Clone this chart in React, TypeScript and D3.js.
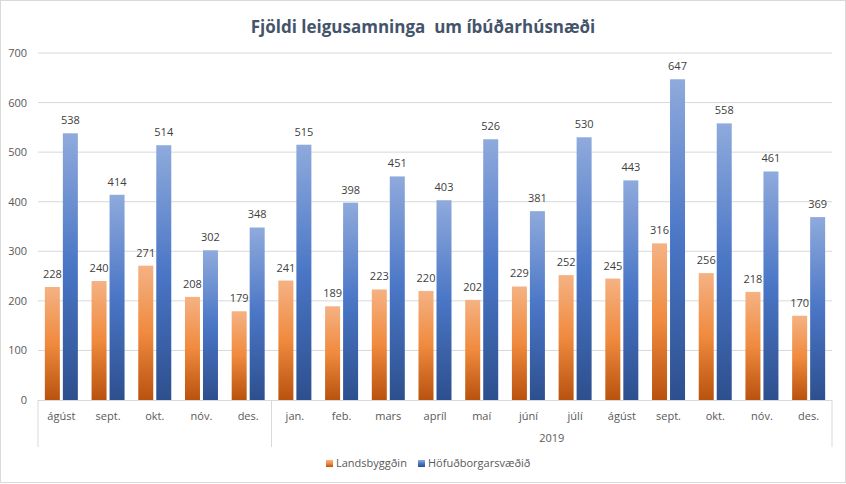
import React from "react";
import * as d3 from "d3";

const months = ["ágúst", "sept.", "okt.", "nóv.", "des.", "jan.", "feb.", "mars", "apríl", "maí", "júní", "júlí", "ágúst", "sept.", "okt.", "nóv.", "des."];
const landsbyggdin = [228, 240, 271, 208, 179, 241, 189, 223, 220, 202, 229, 252, 245, 316, 256, 218, 170];
const hofudborg = [538, 414, 514, 302, 348, 515, 398, 451, 403, 526, 381, 530, 443, 647, 558, 461, 369];
const yTicks = [0, 100, 200, 300, 400, 500, 600, 700];
const yearLabel = "2019";
const yearStart = 5;
const seriesNames = ["Landsbyggðin", "Höfuðborgarsvæðið"];
const title = "Fjöldi leigusamninga  um íbúðarhúsnæði";

const W = 846, H = 484;
const left = 38, right = 832, top = 53, bottom = 400;
const font = "'Open Sans', 'Noto Sans', sans-serif";

export default function App() {
  const x = d3.scaleBand<number>().domain(months.map((_, i) => i)).range([left, right]).paddingInner(0).paddingOuter(0);
  const y = d3.scaleLinear().domain([0, 700]).range([bottom, top]);
  const bw = x.bandwidth();
  const inner = d3.scaleBand<number>().domain([0, 1]).range([0, 33]).paddingInner(3 / 18);
  const groupOffset = (bw - 33) / 2;
  const series = [landsbyggdin, hofudborg];
  const grads = ["gOrange", "gBlue"];
  return (
    <svg width={W} height={H} style={{ position: "absolute", left: 0, top: 0, background: "#fff" }}>
      <defs>
        <linearGradient id="gOrange" x1="0" y1="0" x2="0" y2="1">
          <stop offset="0" stopColor="#F5B283" />
          <stop offset="0.5" stopColor="#F08A3E" />
          <stop offset="1" stopColor="#B8520E" />
        </linearGradient>
        <linearGradient id="gBlue" x1="0" y1="0" x2="0" y2="1">
          <stop offset="0" stopColor="#8FAADC" />
          <stop offset="0.5" stopColor="#4A76C6" />
          <stop offset="1" stopColor="#2D4F8E" />
        </linearGradient>
      </defs>
      <rect x={0.5} y={0.5} width={W - 1} height={H - 2} fill="#fff" stroke="#D9D9D9" />
      <text x={W / 2} y={33} textAnchor="middle" fontFamily={font} fontWeight="bold" fontSize={17} fill="#44546A" style={{ whiteSpace: "pre" }}>{title}</text>
      {yTicks.map(t => (
        <g key={t}>
          {t > 0 && <line x1={left} x2={right} y1={y(t)} y2={y(t)} stroke="#D9D9D9" strokeWidth={1} />}
          <text x={27} y={y(t) + 4} textAnchor="end" fontFamily={font} fontSize={11} fill="#595959">{t}</text>
        </g>
      ))}
      {series.map((vals, si) => vals.map((v, i) => {
        const bx = (x(i) as number) + groupOffset + (inner(si) as number);
        const iw = inner.bandwidth();
        return (
          <g key={si + "-" + i}>
            <rect x={bx} y={y(v)} width={iw} height={bottom - y(v)} fill={`url(#${grads[si]})`} />
            <text x={bx + iw / 2} y={y(v) - 9} textAnchor="middle" fontFamily={font} fontSize={11} fill="#404040">{v}</text>
          </g>
        );
      }))}
      <line x1={left} x2={right} y1={bottom + 0.5} y2={bottom + 0.5} stroke="#D9D9D9" />
      {[0, yearStart, months.length].map(i => {
        const xx = i === months.length ? right : (x(i) as number);
        return <line key={i} x1={xx} x2={xx} y1={bottom} y2={447} stroke="#D9D9D9" />;
      })}
      {months.map((m, i) => (
        <text key={i} x={(x(i) as number) + bw / 2} y={420} textAnchor="middle" fontFamily={font} fontSize={11} fill="#595959">{m}</text>
      ))}
      <text x={((x(yearStart) as number) + right) / 2} y={442} textAnchor="middle" fontFamily={font} fontSize={11} fill="#595959">{yearLabel}</text>
      <g>
        <rect x={326} y={460} width={7} height={7} fill="url(#gOrange)" />
        <text x={336} y={467} fontFamily={font} fontSize={11} fill="#595959">{seriesNames[0]}</text>
        <rect x={418} y={460} width={7} height={7} fill="url(#gBlue)" />
        <text x={428} y={467} fontFamily={font} fontSize={11} fill="#595959">{seriesNames[1]}</text>
      </g>
    </svg>
  );
}
